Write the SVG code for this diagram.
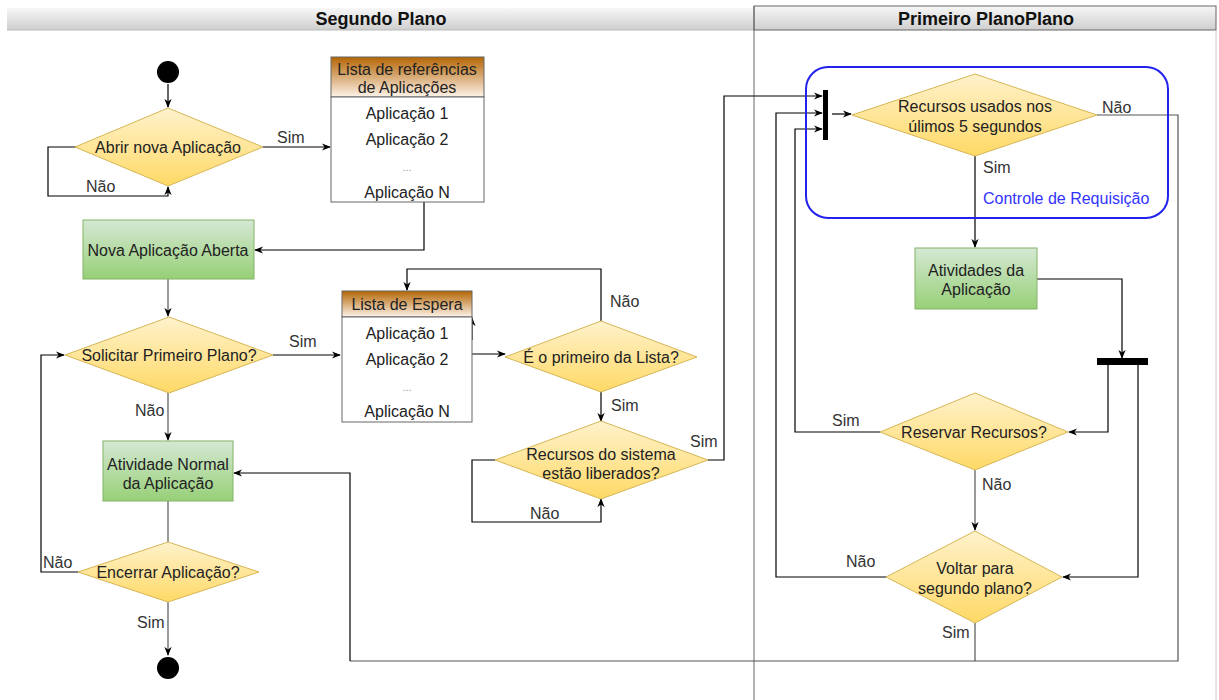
<svg xmlns="http://www.w3.org/2000/svg" width="1219" height="700" viewBox="0 0 1219 700">
  <defs>
    <linearGradient id="gHead" x1="0" y1="0" x2="0" y2="1">
      <stop offset="0" stop-color="#f7f7f7"/>
      <stop offset="1" stop-color="#cfcfcf"/>
    </linearGradient>
    <linearGradient id="gDia" x1="0" y1="0" x2="0" y2="1">
      <stop offset="0" stop-color="#fff2cc"/>
      <stop offset="1" stop-color="#ffd966"/>
    </linearGradient>
    <linearGradient id="gAct" x1="0" y1="0" x2="0" y2="1">
      <stop offset="0" stop-color="#d5e8d4"/>
      <stop offset="1" stop-color="#97d077"/>
    </linearGradient>
    <linearGradient id="gList" x1="0" y1="0" x2="0" y2="1">
      <stop offset="0" stop-color="#b46504"/>
      <stop offset="1" stop-color="#fdf3ea"/>
    </linearGradient>
    <marker id="arr" viewBox="0 0 10 10" refX="9" refY="5" markerWidth="9" markerHeight="9" orient="auto" markerUnits="userSpaceOnUse">
      <path d="M0,1 L10,5 L0,9 L3,5 Z" fill="#000"/>
    </marker>
    <style>
      text { font-family: "Liberation Sans", Arial, sans-serif; font-size: 16px; fill: #222; }
      .hd { font-weight: bold; font-size: 18px; fill: #111; }
      .c { text-anchor: middle; }
      .dia { fill: url(#gDia); stroke: #d6b656; stroke-width: 1; }
      .act { fill: url(#gAct); stroke: #82b366; stroke-width: 1; }
      .lhead { fill: url(#gList); stroke: #666; stroke-width: 1; }
      .lbody { fill: #fff; stroke: #666; stroke-width: 1; }
      .dots { font-size: 11px; fill: #999; }
      .e { fill: none; stroke: #000; stroke-width: 1.2; }
      .eg { fill: none; stroke: #555; stroke-width: 1.2; }
      .a { marker-end: url(#arr); }
      .lbl { font-size: 16px; fill: #333; }
    </style>
  </defs>

  <rect width="1219" height="700" fill="#fff"/>

  <!-- swimlanes -->
  <g id="lanes">
    <rect x="7" y="8" width="747" height="22" fill="url(#gHead)"/>
    <line x1="7" y1="30" x2="754" y2="30" stroke="#bbb"/>
    <text class="hd c" x="381" y="25">Segundo Plano</text>
    <rect x="754" y="6" width="462" height="24" fill="url(#gHead)" stroke="#666" stroke-width="1"/>
    <line x1="754" y1="6" x2="754" y2="700" stroke="#666"/>
    <line x1="1216" y1="30" x2="1216" y2="700" stroke="#ccc"/>
    <text class="hd c" x="986" y="25">Primeiro PlanoPlano</text>
  </g>

  <!-- connectors -->
  <g id="connectors">
    <path class="e a" d="M168,84 V107"/>
    <path class="e a" d="M78,147 H48 V196 H168 V187"/>
    <path class="e a" d="M263,147 H330"/>
    <path class="e a" d="M424,202 V250 H255"/>
    <path class="eg a" d="M168,279 V316"/>
    <path class="e a" d="M273,355 H340"/>
    <path class="eg a" d="M168,393 V440"/>
    <path class="e a" d="M472,354 H505"/>
    <path class="e a" d="M601,321 V269 H407 V290"/>
    <path class="e a" d="M472,340 V318"/>
    <path class="e a" d="M601,392 V421"/>
    <path class="e a" d="M495,460 H472 V522 H601 V499"/>
    <path class="e a" d="M708,460 H724 V96 H822"/>
    <path class="eg" d="M168,501 V542"/>
    <path class="e a" d="M78,572 H41 V355 H64"/>
    <path class="eg a" d="M168,602 V655"/>
    <path class="e a" d="M832,114 H851"/>
    <path class="eg" d="M1097,115 H1178 V661 H350"/>
    <path class="e a" d="M350,661 V473 H234"/>
    <path class="eg" d="M975,623 V661"/>
    <path class="e a" d="M975,156 V247"/>
    <path class="e a" d="M1037,279 H1122 V358"/>
    <path class="e a" d="M1108,365 V432 H1069"/>
    <path class="e a" d="M1138,365 V577 H1063"/>
    <path class="e a" d="M880,432 H795 V129 H822"/>
    <path class="eg a" d="M975,470 V530"/>
    <path class="e a" d="M886,577 H776 V113 H822"/>
  </g>

  <!-- edge labels -->
  <g id="edge-labels">
    <text class="lbl" x="86" y="192">Não</text>
    <text class="lbl" x="277" y="143">Sim</text>
    <text class="lbl" x="289" y="347">Sim</text>
    <text class="lbl" x="135" y="416">Não</text>
    <text class="lbl" x="610" y="307">Não</text>
    <text class="lbl" x="611" y="411">Sim</text>
    <text class="lbl" x="530" y="519">Não</text>
    <text class="lbl" x="690" y="447">Sim</text>
    <text class="lbl" x="43" y="568">Não</text>
    <text class="lbl" x="137" y="628">Sim</text>
    <text class="lbl" x="1102" y="113">Não</text>
    <text class="lbl" x="983" y="173">Sim</text>
    <text class="lbl" x="832" y="426">Sim</text>
    <text class="lbl" x="982" y="490">Não</text>
    <text class="lbl" x="846" y="567">Não</text>
    <text class="lbl" x="942" y="638">Sim</text>
  </g>

  <!-- left lane nodes -->
  <g id="start">
    <circle cx="168" cy="72" r="11" fill="#000"/>
  </g>

  <g id="abrir">
    <polygon class="dia" points="168,108 263,147 168,186 75,147"/>
    <text class="c" x="168" y="153">Abrir nova Aplicação</text>
  </g>

  <g id="lista-referencias">
    <rect class="lhead" x="331" y="57" width="153" height="40"/>
    <rect class="lbody" x="331" y="97" width="153" height="105"/>
    <text class="c" x="407" y="75">Lista de referências</text>
    <text class="c" x="407" y="93">de Aplicações</text>
    <text class="c" x="407" y="119">Aplicação 1</text>
    <text class="c" x="407" y="145">Aplicação 2</text>
    <text class="c dots" x="407" y="171">...</text>
    <text class="c" x="407" y="198">Aplicação N</text>
  </g>

  <g id="nova-aberta">
    <rect class="act" x="83" y="220" width="171" height="59"/>
    <text class="c" x="168" y="256">Nova Aplicação Aberta</text>
  </g>

  <g id="solicitar">
    <polygon class="dia" points="169,317 273,355 169,393 65,355"/>
    <text class="c" x="169" y="361">Solicitar Primeiro Plano?</text>
  </g>

  <g id="lista-espera">
    <rect class="lhead" x="342" y="291" width="130" height="26"/>
    <rect class="lbody" x="342" y="317" width="130" height="105"/>
    <text class="c" x="407" y="310">Lista de Espera</text>
    <text class="c" x="407" y="339">Aplicação 1</text>
    <text class="c" x="407" y="365">Aplicação 2</text>
    <text class="c dots" x="407" y="391">...</text>
    <text class="c" x="407" y="417">Aplicação N</text>
  </g>

  <g id="primeiro-lista">
    <polygon class="dia" points="601,321 697,357 601,392 505,357"/>
    <text class="c" x="601" y="363">É o primeiro da Lista?</text>
  </g>

  <g id="recursos-sistema">
    <polygon class="dia" points="601,421 708,460 601,499 495,460"/>
    <text class="c" x="601" y="460">Recursos do sistema</text>
    <text class="c" x="601" y="479">estão liberados?</text>
  </g>

  <g id="atividade-normal">
    <rect class="act" x="103" y="441" width="130" height="60"/>
    <text class="c" x="168" y="470">Atividade Normal</text>
    <text class="c" x="168" y="489">da Aplicação</text>
  </g>

  <g id="encerrar">
    <polygon class="dia" points="168,542 259,572 168,602 78,572"/>
    <text class="c" x="168" y="578">Encerrar Aplicação?</text>
  </g>

  <g id="end">
    <circle cx="168" cy="668" r="11" fill="#000"/>
  </g>

  <!-- right lane nodes -->
  <g id="controle-requisicao">
    <rect x="806" y="67" width="362" height="151" rx="22" fill="none" stroke="#2222ee" stroke-width="2"/>
    <text x="983" y="204" style="fill:#3333ff">Controle de Requisição</text>
  </g>

  <g id="fork">
    <rect x="823" y="90" width="5" height="50" fill="#000"/>
  </g>

  <g id="recursos-usados">
    <polygon class="dia" points="975,74 1097,115 975,156 852,115"/>
    <text class="c" x="975" y="112">Recursos usados nos</text>
    <text class="c" x="975" y="132">úlimos 5 segundos</text>
  </g>

  <g id="atividades-aplicacao">
    <rect class="act" x="915" y="248" width="122" height="61"/>
    <text class="c" x="976" y="276">Atividades da</text>
    <text class="c" x="976" y="295">Aplicação</text>
  </g>

  <g id="join">
    <rect x="1097" y="358" width="51" height="7" fill="#000"/>
  </g>

  <g id="reservar">
    <polygon class="dia" points="975,393 1068,432 975,470 880,432"/>
    <text class="c" x="974" y="438">Reservar Recursos?</text>
  </g>

  <g id="voltar">
    <polygon class="dia" points="975,531 1062,577 975,623 886,577"/>
    <text class="c" x="975" y="574">Voltar para</text>
    <text class="c" x="975" y="594">segundo plano?</text>
  </g>
</svg>
